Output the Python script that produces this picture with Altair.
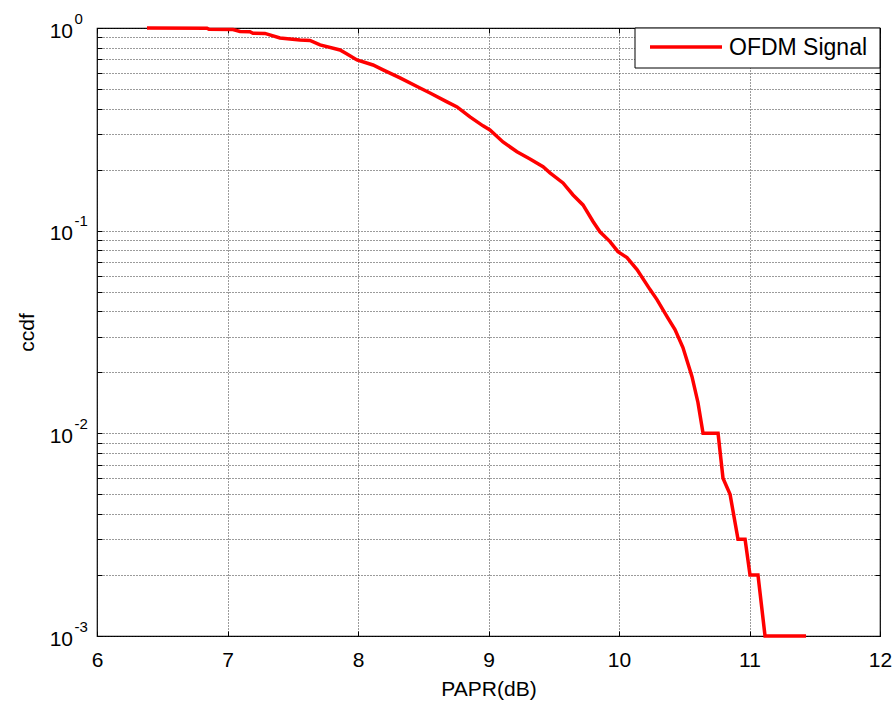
import altair as alt
import pandas as pd

# PAPR threshold (dB) and complementary CDF of the OFDM signal
papr = [6.383, 6.843, 6.858, 7.042, 7.096, 7.172, 7.195, 7.287, 7.402, 7.556,
        7.632, 7.709, 7.862, 7.916, 7.992, 8.115, 8.192, 8.322, 8.475, 8.552,
        8.682, 8.759, 8.858, 8.958, 9.011, 9.111, 9.218, 9.318, 9.418, 9.471,
        9.571, 9.648, 9.724, 9.801, 9.854, 9.931, 9.992, 10.061, 10.138, 10.238,
        10.291, 10.368, 10.429, 10.490, 10.559, 10.605, 10.644, 10.759, 10.797,
        10.851, 10.912, 10.966, 11.004, 11.065, 11.119, 11.433]
ccdf = [1.0, 0.997, 0.985, 0.983, 0.961, 0.959, 0.942, 0.940, 0.893, 0.873,
        0.868, 0.825, 0.779, 0.745, 0.696, 0.657, 0.621, 0.567, 0.506, 0.478,
        0.432, 0.408, 0.364, 0.329, 0.314, 0.274, 0.245, 0.226, 0.207, 0.193,
        0.172, 0.150, 0.134, 0.111, 0.0987, 0.0883, 0.0788, 0.0736, 0.0643, 0.0512,
        0.0457, 0.0377, 0.0325, 0.0265, 0.0191, 0.0142, 0.010, 0.010, 0.006,
        0.005, 0.003, 0.003, 0.002, 0.002, 0.001, 0.001]
series_name = "OFDM Signal"

x_ticks = [6, 7, 8, 9, 10, 11, 12]
y_grid = [m * 10.0 ** e for e in (-3, -2, -1) for m in range(1, 10)] + [1.0]
decades = [1.0, 0.1, 0.01, 0.001]
exponents = ["0", "-1", "-2", "-3"]

FONT = "Liberation Sans"
W, H = 783, 608

df = pd.DataFrame({"papr": papr, "ccdf": ccdf, "series": series_name})
lab = pd.DataFrame({"v": decades, "base": "10", "exp": exponents})
leg = pd.DataFrame({"series": [series_name]})

x_scale = alt.Scale(domain=[6, 12], nice=False, zero=False)
y_scale = alt.Scale(type="log", domain=[0.001, 1], nice=False)

grid_style = dict(grid=True, gridColor="#222222", gridOpacity=0.9,
                  gridDash=[1, 2], gridWidth=1)

x_axis = alt.Axis(values=x_ticks, title="PAPR(dB)", domain=False,
                  ticks=True, tickSize=5, tickColor="black", offset=-5,
                  labelPadding=13, labelFontSize=21, labelFont=FONT,
                  labelColor="black", labelFlush=False, format="d",
                  titleFont=FONT, titleFontSize=21, titleFontWeight="normal",
                  titleColor="black", titlePadding=8, **grid_style)
y_axis = alt.Axis(values=y_grid, title="ccdf", domain=False, labels=False,
                  ticks=True, tickSize=5, tickColor="black", offset=-5,
                  titleFont=FONT, titleFontSize=21, titleFontWeight="normal",
                  titleColor="black", titlePadding=59, **grid_style)

curve = alt.Chart(df).mark_line(color="#ff0000", strokeWidth=3.5).encode(
    x=alt.X("papr:Q", scale=x_scale, axis=x_axis),
    y=alt.Y("ccdf:Q", scale=y_scale, axis=y_axis),
)

# mirrored inward ticks on the top and right edges of the box
mirror = alt.Chart(df).mark_point(opacity=0).encode(
    x=alt.X("papr:Q", scale=x_scale,
            axis=alt.Axis(orient="top", values=x_ticks, labels=False,
                          domain=False, grid=False, title=None, ticks=True,
                          tickSize=5, tickColor="black", offset=-5)),
    y=alt.Y("ccdf:Q", scale=y_scale,
            axis=alt.Axis(orient="right", values=y_grid, labels=False,
                          domain=False, grid=False, title=None, ticks=True,
                          tickSize=5, tickColor="black", offset=-5)),
)

# decade labels 10^k with superscript exponents
base_txt = alt.Chart(lab).mark_text(
    align="right", baseline="alphabetic", font=FONT, fontSize=21,
    color="black", dy=9.5
).encode(x=alt.value(-24), y=alt.Y("v:Q", scale=y_scale, axis=None),
         text="base:N")
exp_txt = alt.Chart(lab).mark_text(
    align="left", baseline="alphabetic", font=FONT, fontSize=15,
    color="black", dy=-4.5
).encode(x=alt.value(-22.5), y=alt.Y("v:Q", scale=y_scale, axis=None),
         text="exp:N")

# legend box in the upper right corner
leg_box = alt.Chart(leg).mark_rect(fill="white", stroke="black",
                                   strokeWidth=1).encode(
    x=alt.value(538), x2=alt.value(W), y=alt.value(0), y2=alt.value(40))
leg_line = alt.Chart(leg).mark_rule(color="#ff0000", strokeWidth=3.5).encode(
    x=alt.value(553), x2=alt.value(625), y=alt.value(19))
leg_text = alt.Chart(leg).mark_text(
    align="left", baseline="middle", font=FONT, fontSize=23, color="black"
).encode(x=alt.value(632), y=alt.value(20), text="series:N")

chart = alt.layer(
    curve, mirror, base_txt, exp_txt, leg_box, leg_line, leg_text
).resolve_axis(
    x="independent", y="independent"
).properties(
    width=W, height=H,
    autosize=alt.AutoSizeParams(type="none"),
    padding={"left": 97, "top": 28, "right": 16, "bottom": 66},
    background="white",
).configure_view(
    stroke="black", strokeWidth=1.2
)

chart.save("out.html", embed_options={"renderer": "svg", "actions": False})
